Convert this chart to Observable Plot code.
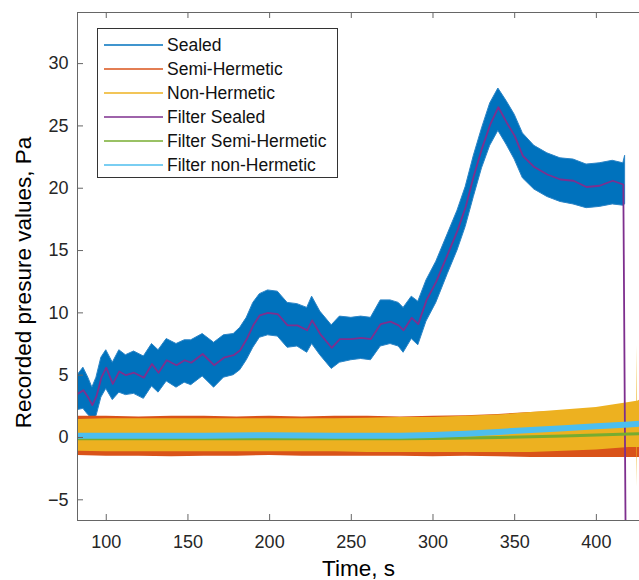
<!DOCTYPE html>
<html><head><meta charset="utf-8">
<script src="https://cdn.jsdelivr.net/npm/d3@7"></script>
<script src="https://cdn.jsdelivr.net/npm/@observablehq/plot@0.6"></script>
<style>
body{margin:0;background:#fff;font-family:"Liberation Sans",Arial,sans-serif;}
#wrap{position:relative;width:639px;height:580px;overflow:hidden;}
#legend{position:absolute;left:97px;top:28px;width:241px;height:150px;border:1px solid #333;background:#fff;box-sizing:border-box;}
.row{position:absolute;left:0;width:100%;height:24px;}
.sw{position:absolute;left:6px;width:59px;top:11px;height:1.6px;}
.lb{position:absolute;left:69px;top:0;line-height:24px;font-size:17.5px;color:#111;white-space:nowrap;}
</style></head>
<body><div id="wrap"><div id="chart"></div><div id="legend"></div></div>
<script>
// ---- data ----
const seriesNames = ["Sealed","Semi-Hermetic","Non-Hermetic","Filter Sealed","Filter Semi-Hermetic","Filter non-Hermetic"];
const seriesColors = ["#0072BD","#D95319","#EDB120","#7E2F8E","#77AC30","#4DBEEE"];

const xTicks = [100,150,200,250,300,350,400];
const yTicks = [-5,0,5,10,15,20,25,30];

// Sealed raw signal envelope (time, upper, lower)
const sealedT  = [82.5,86,89,91.5,94,97,100,104,108,112,117,123,128,132,137,143,148,152,159,166,172,178,182,186,190,194,199,205,211,217,223,226,231,238,243,250,256,262,268,274,279,282,287,291,296,302,309,315,320,325,330,335,340,345,350,355,362,370,378,386,394,402,410,416.5,417.6];
const sealedHi = [5.0,5.6,4.8,4.0,4.8,6.4,7.0,6.0,7.0,6.6,6.9,6.5,7.5,7.0,7.9,7.5,7.8,7.8,8.3,7.6,8.2,8.3,8.8,9.6,10.8,11.5,11.8,11.7,10.8,10.7,10.4,11.3,10.1,9.0,9.7,9.6,9.7,9.6,11.0,11.0,10.8,10.4,11.3,10.9,12.6,14.1,16.3,18.2,20.1,22.6,24.8,26.8,28.0,27.0,25.9,24.4,23.4,22.8,22.4,22.3,21.9,22.0,22.2,22.0,22.6];
const sealedLo = [2.2,2.3,1.8,1.5,1.7,3.2,3.9,3.0,3.6,3.4,3.5,3.1,4.1,3.6,4.5,4.0,4.4,4.2,4.9,4.0,4.8,5.0,5.4,6.2,7.2,8.0,8.2,8.1,7.2,7.3,6.8,7.5,6.6,5.5,6.0,6.2,6.3,6.2,7.3,7.5,7.3,6.8,7.9,7.4,9.3,10.8,13.1,15.0,16.9,19.3,21.6,23.4,24.6,23.5,22.3,20.8,19.9,19.3,18.9,18.7,18.4,18.5,18.7,18.6,18.7];

// Filter Sealed
const filtSealedT = [82.5,86,89,91.5,94,97,100,104,108,112,117,123,128,132,137,143,148,152,159,166,172,178,182,186,190,194,199,205,211,217,223,226,231,238,243,250,256,262,268,274,279,282,287,291,296,302,309,315,320,325,330,335,340,345,350,355,362,370,378,386,394,402,410,416.5,418];
const filtSealedV = [3.5,3.8,3.2,2.6,3.3,4.8,5.6,4.3,5.3,5.0,5.2,4.8,5.9,5.2,6.2,5.8,6.2,6.0,6.7,5.8,6.4,6.6,7.0,7.9,9.0,9.8,10.0,9.9,9.0,9.0,8.6,9.4,8.3,7.2,7.9,7.9,8.0,7.9,9.1,9.3,9.0,8.6,9.6,9.1,11.0,12.5,14.7,16.6,18.5,21.0,23.2,25.1,26.5,25.3,24.2,22.6,21.7,21.1,20.7,20.6,20.1,20.2,20.6,20.3,-10];

// Semi- and Non-Hermetic raw envelopes
const hermT   = [82.5,100,120,140,160,180,200,220,240,260,280,300,320,340,360,380,400,410,420,424.8,425,425.2,426.5];
const semiHi  = [1.7,1.7,1.65,1.7,1.7,1.65,1.7,1.65,1.7,1.7,1.65,1.7,1.75,1.85,2.0,2.1,2.2,2.3,2.4,2.4,2.4,2.4,2.4];
const semiLo  = [-1.45,-1.5,-1.5,-1.55,-1.5,-1.5,-1.45,-1.5,-1.5,-1.5,-1.5,-1.55,-1.5,-1.55,-1.6,-1.6,-1.6,-1.6,-1.6,-1.6,-1.6,-1.6,-1.6];
const nonHi   = [1.45,1.5,1.5,1.5,1.5,1.5,1.5,1.5,1.5,1.55,1.6,1.6,1.7,1.8,2.0,2.2,2.4,2.6,2.8,2.9,7.4,2.9,3.0];
const nonLo   = [-1.1,-1.15,-1.15,-1.15,-1.15,-1.15,-1.15,-1.15,-1.15,-1.2,-1.2,-1.2,-1.2,-1.2,-1.2,-1.1,-1.0,-0.9,-0.8,-0.8,-4.0,-0.8,-0.8];

// Filter Semi-Hermetic / Filter non-Hermetic
const filtT     = [82.5,120,160,200,240,280,300,320,340,360,380,400,420,426.5];
const filtSemiV = [-0.1,-0.1,-0.1,-0.1,-0.1,-0.1,-0.08,-0.05,0.0,0.05,0.12,0.2,0.28,0.3];
const filtNonV  = [0.15,0.15,0.15,0.18,0.15,0.15,0.2,0.3,0.45,0.6,0.75,0.9,1.05,1.1];

// ---- build tables ----
const sealedRaw = sealedT.map((t,i)=>({t, hi: sealedHi[i], lo: sealedLo[i]}));
const sealedF = filtSealedT.map((t,i)=>({t, v: filtSealedV[i]}));
const semiRaw = hermT.map((t,i)=>({t, hi: semiHi[i], lo: semiLo[i]}));
const nonRaw = hermT.map((t,i)=>({t, hi: nonHi[i], lo: nonLo[i]}));
const semiF = filtT.map((t,i)=>({t, v: filtSemiV[i]}));
const nonF = filtT.map((t,i)=>({t, v: filtNonV[i]}));

const W = 639, H = 580, mL = 77, mR = 0, mT = 12, mB = 60;
const xDom = [82.4, 426.4], yDom = [-6.66, 34.1];
const fw = W - mL - mR, fh = H - mT - mB;
const axisCol = "#262626", frameCol = "#666";

const chart = Plot.plot({
  width: W, height: H,
  marginLeft: mL, marginRight: mR, marginTop: mT, marginBottom: mB,
  style: {fontFamily: "'Liberation Sans', Arial, sans-serif", fontSize: "18px", color: axisCol, background: "#fff"},
  x: {domain: xDom},
  y: {domain: yDom},
  marks: [
    Plot.areaY(sealedRaw, {x: "t", y1: "lo", y2: "hi", fill: seriesColors[0], stroke: "#2a84c6", strokeWidth: 1, clip: true}),
    Plot.areaY(semiRaw, {x: "t", y1: "lo", y2: "hi", fill: seriesColors[1], clip: true}),
    Plot.areaY(nonRaw, {x: "t", y1: "lo", y2: "hi", fill: seriesColors[2], clip: true}),
    Plot.line(sealedF, {x: "t", y: "v", stroke: seriesColors[3], strokeWidth: 1.8, clip: true}),
    Plot.line(semiF, {x: "t", y: "v", stroke: seriesColors[4], strokeWidth: 3, clip: true}),
    Plot.line(nonF, {x: "t", y: "v", stroke: seriesColors[5], strokeWidth: 6, clip: true}),
    // frame (left, top, bottom)
    Plot.ruleX([xDom[0]], {stroke: frameCol}),
    Plot.ruleY([yDom[0]], {stroke: frameCol}),
    Plot.ruleY([yDom[1]], {stroke: frameCol}),
    // inward ticks
    Plot.ruleX(xTicks, {stroke: frameCol, insetTop: fh - 6}),
    Plot.ruleX(xTicks, {stroke: frameCol, insetBottom: fh - 6}),
    Plot.ruleY(yTicks, {stroke: frameCol, insetRight: fw - 6}),
    Plot.axisX(xTicks, {tickSize: 0, tickPadding: 15, fill: axisCol, label: null}),
    Plot.axisY(yTicks, {tickSize: 0, tickPadding: 9, fill: axisCol, label: null}),
    Plot.text(["Time, s"], {frameAnchor: "bottom", textAnchor: "middle", dy: 55, fontSize: 22.5, fill: "#000"}),
    Plot.text(["Recorded presure values, Pa"], {frameAnchor: "left", textAnchor: "middle", rotate: -90, dx: -54, dy: 16, fontSize: 22.5, fill: "#000"})
  ]
});
document.getElementById("chart").appendChild(chart);

// legend
const lg = document.getElementById("legend");
seriesNames.forEach((name, i) => {
  const r = document.createElement("div");
  r.className = "row";
  r.style.top = (4 + 24 * i) + "px";
  r.innerHTML = `<div class="sw" style="background:${seriesColors[i]};opacity:0.75"></div><div class="lb">${name}</div>`;
  lg.appendChild(r);
});
</script>
</body></html>
